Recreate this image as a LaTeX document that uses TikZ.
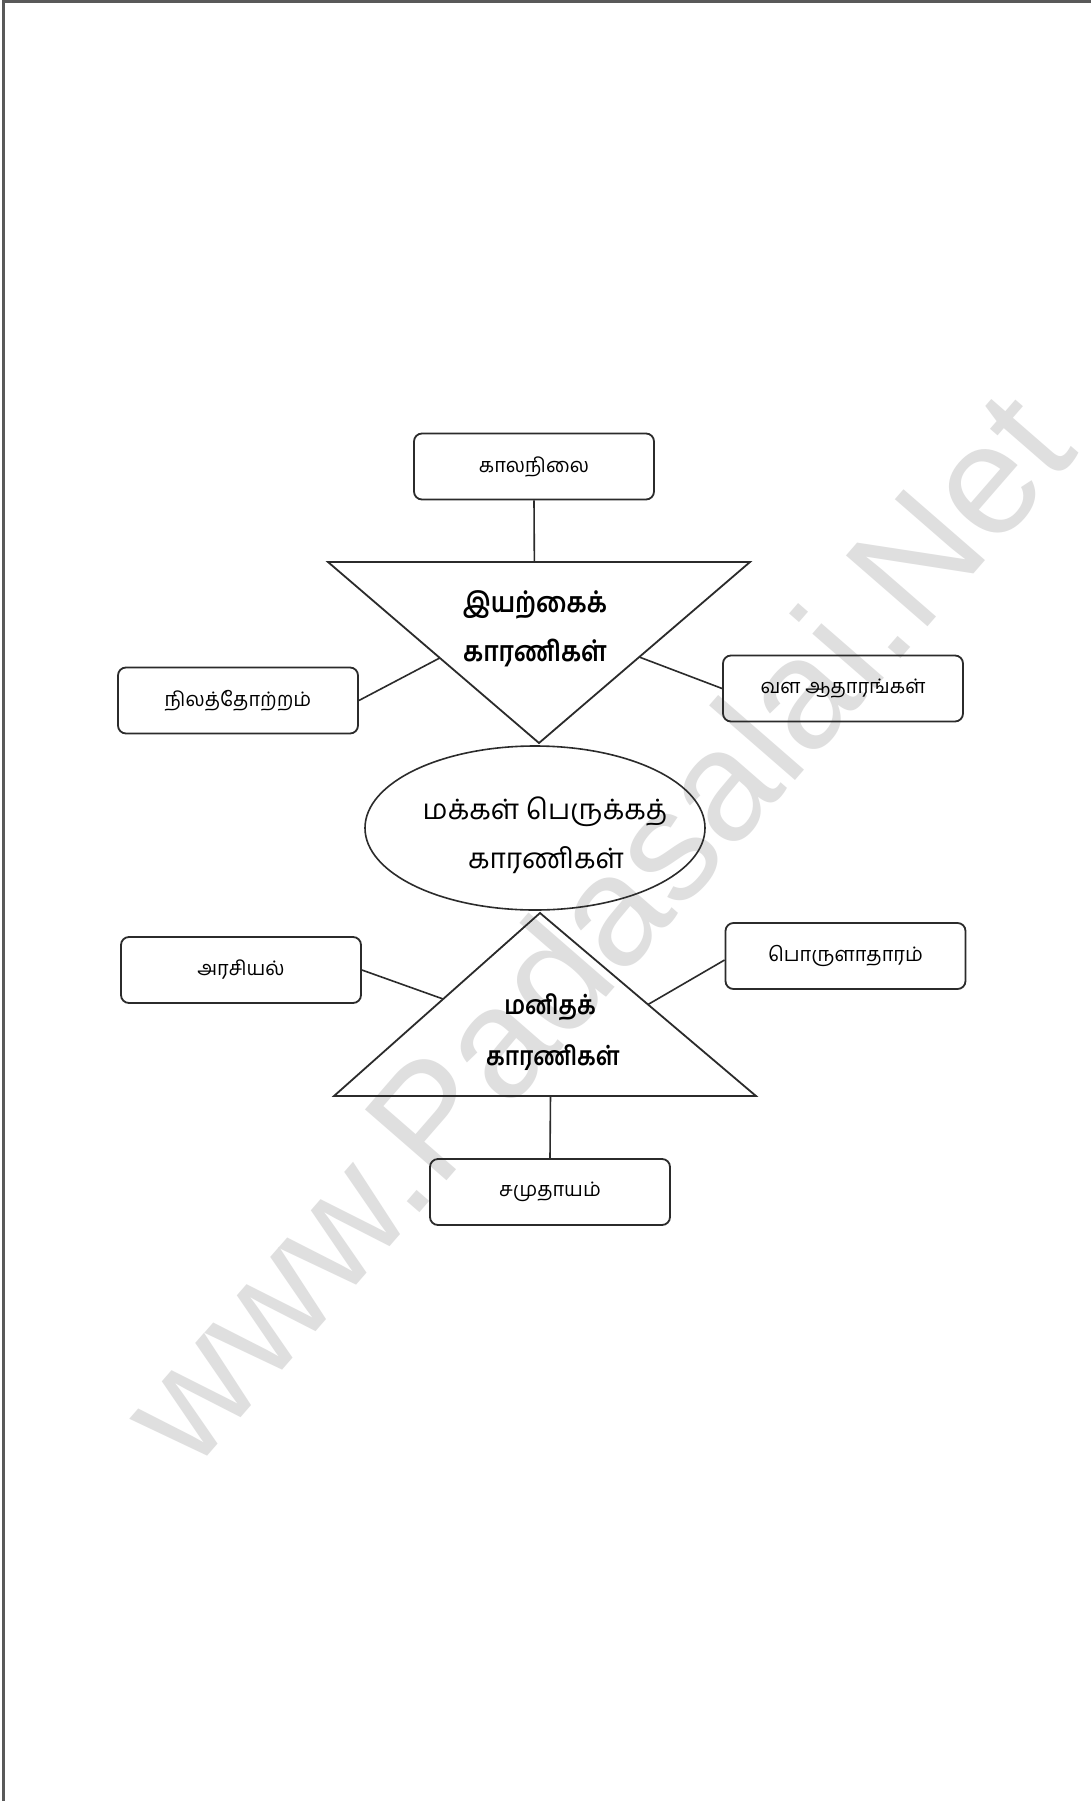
\documentclass[tikz,border=0pt]{standalone}
\usepackage{fontspec}
\usetikzlibrary{shapes.geometric,calc}
\setmainfont{Liberation Sans}
\newfontfamily\tamfont[Script=Tamil]{Hind Madurai}
\newfontfamily\tamnarrow[Script=Tamil,FakeStretch=0.88]{Hind Madurai}
\definecolor{ink}{HTML}{2B2B2B}
\definecolor{wm}{HTML}{DFDFDF}
\begin{document}
\begin{tikzpicture}[x=1pt,y=-1pt,
  box/.style={draw=ink,line width=1.8pt,rounded corners=8pt,minimum width=240pt,minimum height=66pt,inner sep=0pt,font=\tamfont\fontsize{20}{24}\selectfont},
  link/.style={draw=ink,line width=1.6pt},
  tri/.style={draw=ink,line width=1.8pt,line join=miter},
  big/.style={inner sep=0pt,font=\tamnarrow\bfseries\fontsize{28}{30}\selectfont},
  smallbig/.style={inner sep=0pt,font=\tamnarrow\bfseries\fontsize{26}{30}\selectfont},
  elltext/.style={inner sep=0pt,font=\tamfont\fontsize{28}{30}\selectfont},
]
\fill[white] (0,0) rectangle (1091,1801);
\useasboundingbox (0,0) rectangle (1091,1801);
% watermark
\node[text=wm,rotate=49,inner sep=0pt,font=\fontsize{157}{157}\selectfont] (wmk) at (594,926) {www.Padasalai.Net};
% page border
\draw[gray!70!black,line width=2.5pt] (3.5,1801) -- (3.5,1.5) -- (1091,1.5);

% boxes
\node[box] (kal)   at (534,466.5) {காலநிலை};
\node[box] (nil)   at (238,700.5) {நிலத்தோற்றம்};
\node[box] (vala)  at (843,688.5) {வள ஆதாரங்கள்};
\node[box] (arasi) at (241,970)   {அரசியல்};
\node[box] (poru)  at (845.5,956) {பொருளாதாரம்};
\node[box] (samu)  at (550,1192)  {சமுதாயம்};

% upper (inverted) triangle
\coordinate (t1a) at (328,562);
\coordinate (t1b) at (750,562);
\coordinate (t1c) at (539,743);
\draw[tri] (t1a) -- (t1b) -- (t1c) -- cycle;
\node[big] (iy1) at (535,605) {இயற்கைக்};
\node[big] (iy2) at (535,653) {காரணிகள்};

% centre ellipse
\node[draw=ink,line width=1.6pt,ellipse,minimum width=340pt,minimum height=164pt,inner sep=0pt] (ell) at (535,828) {};
\node[elltext] (el1) at (545,812) {மக்கள் பெருக்கத்};
\node[elltext] (el2) at (546,860) {காரணிகள்};

% lower triangle
\coordinate (t2a) at (540,913);
\coordinate (t2b) at (334,1096);
\coordinate (t2c) at (756,1096);
\draw[tri] (t2a) -- (t2b) -- (t2c) -- cycle;
\node[smallbig] (ma1) at (550,1007) {மனிதக்};
\node[smallbig] (ma2) at (553,1058) {காரணிகள்};

% connectors
\coordinate (t1top) at ($(t1a)!0.489!(t1b)$);
\coordinate (t1l) at ($(t1a)!0.53!(t1c)$);
\coordinate (t1r) at ($(t1b)!0.525!(t1c)$);
\coordinate (t2l) at ($(t2a)!0.47!(t2b)$);
\coordinate (t2r) at ($(t2a)!0.5!(t2c)$);
\coordinate (t2bot) at ($(t2b)!0.513!(t2c)$);
\draw[link] (kal.south) -- (t1top);
\draw[link] (nil.east) -- (t1l);
\draw[link] (t1r) -- (vala.west);
\draw[link] (arasi.east) -- (t2l);
\draw[link] (t2r) -- ($(poru.west)+(0,4)$);
\draw[link] (t2bot) -- (samu.north);
\end{tikzpicture}
\end{document}
